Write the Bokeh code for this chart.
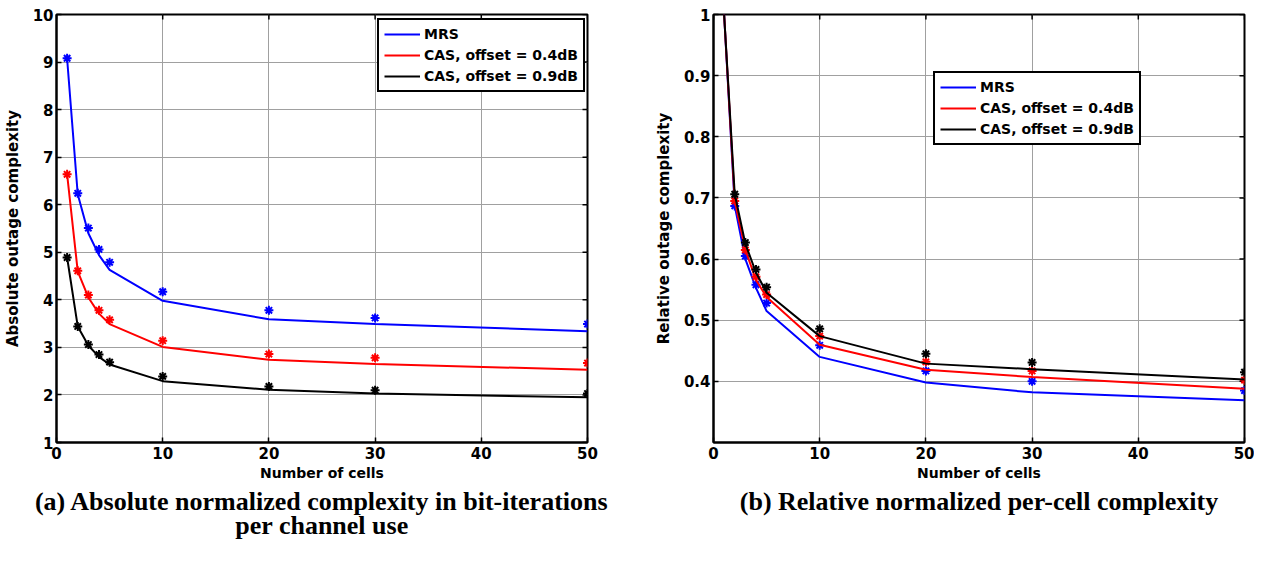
import math
from bokeh.plotting import figure
from bokeh.models import Range1d, FixedTicker, Legend, LegendItem, Title
from bokeh.layouts import row
from bokeh.embed import file_html
from bokeh.resources import INLINE

# ---------------- data ----------------
cells = [1, 2, 3, 4, 5, 10, 20, 30, 50]
series_names = ["MRS", "CAS, offset = 0.4dB", "CAS, offset = 0.9dB"]

# (a) absolute outage complexity
abs_mrs_line = [9.07, 6.22, 5.40, 4.94, 4.63, 3.98, 3.59, 3.49, 3.34]
abs_mrs_sim = [9.08, 6.24, 5.51, 5.06, 4.79, 4.17, 3.78, 3.62, 3.49]
abs_cas04_line = [6.64, 4.60, 4.05, 3.71, 3.49, 3.01, 2.74, 2.65, 2.53]
abs_cas04_sim = [6.64, 4.61, 4.10, 3.78, 3.58, 3.14, 2.86, 2.78, 2.67]
abs_cas09_line = [4.89, 3.44, 3.04, 2.80, 2.64, 2.29, 2.11, 2.03, 1.95]
abs_cas09_sim = [4.89, 3.44, 3.06, 2.85, 2.69, 2.39, 2.18, 2.10, 2.03]

# (b) relative outage complexity
rel_cells_sim = [2, 3, 4, 5, 10, 20, 30, 50]
rel_mrs_line = [1.0, 0.687, 0.600, 0.553, 0.515, 0.440, 0.398, 0.382, 0.369]
rel_mrs_sim = [0.687, 0.605, 0.558, 0.528, 0.459, 0.417, 0.400, 0.385]
rel_cas04_line = [1.0, 0.695, 0.615, 0.566, 0.538, 0.460, 0.419, 0.407, 0.388]
rel_cas04_sim = [0.695, 0.615, 0.571, 0.542, 0.474, 0.432, 0.417, 0.402]
rel_cas09_line = [1.0, 0.706, 0.625, 0.578, 0.545, 0.474, 0.429, 0.420, 0.403]
rel_cas09_sim = [0.706, 0.627, 0.583, 0.554, 0.486, 0.445, 0.431, 0.415]

x_ticks = [0, 10, 20, 30, 40, 50]
abs_y_ticks = [1, 2, 3, 4, 5, 6, 7, 8, 9, 10]
rel_y_ticks = [0.4, 0.5, 0.6, 0.7, 0.8, 0.9, 1.0]

caption_a1 = "(a) Absolute normalized complexity in bit-iterations"
caption_a2 = "per channel use"
caption_b1 = "(b) Relative normalized per-cell complexity"

colors = ["#0000ff", "#ff0000", "#000000"]
SANS = "DejaVu Sans"
SERIF = "Liberation Serif"


def style_axis(ax):
    ax.axis_line_color = "black"
    ax.axis_line_width = 2
    ax.major_tick_in = 5
    ax.major_tick_out = 0
    ax.major_tick_line_width = 1.5
    ax.minor_tick_line_color = None
    ax.major_label_text_font = SANS
    ax.major_label_text_font_style = "bold"
    ax.major_label_text_color = "black"
    ax.major_label_text_font_size = "15px"
    ax.axis_label_text_font = SANS
    ax.axis_label_text_font_style = "bold"
    ax.axis_label_text_color = "black"


def panel(width, bl, br, yr, yticks, ylabel, captions, lines_x, lines, sims_x, sims,
          legend_loc, overrides):
    p = figure(width=width, height=555, x_range=Range1d(0, 50), y_range=Range1d(*yr),
               output_backend="svg", toolbar_location=None,
               min_border_left=bl, min_border_right=br, min_border_top=14,
               min_border_bottom=113)
    p.background_fill_color = "white"
    p.border_fill_color = "white"
    p.outline_line_color = "black"
    p.outline_line_width = 2

    p.xaxis.ticker = FixedTicker(ticks=x_ticks)
    p.yaxis.ticker = FixedTicker(ticks=yticks)
    p.yaxis.major_label_overrides = overrides
    for ax in p.xaxis + p.yaxis:
        style_axis(ax)
    p.xaxis.major_label_standoff = 4
    p.yaxis.major_label_standoff = 3
    p.xaxis.axis_label = "Number of cells"
    p.yaxis.axis_label = ylabel
    p.xaxis.axis_label_text_font_size = "14px"
    p.yaxis.axis_label_text_font_size = "15px"
    p.xaxis.axis_label_standoff = 3
    p.yaxis.axis_label_standoff = 8

    p.xgrid.ticker = FixedTicker(ticks=x_ticks)
    p.ygrid.ticker = FixedTicker(ticks=yticks)
    p.grid.grid_line_color = "#a0a0a0"
    p.grid.grid_line_width = 1

    # inner tick marks on the top and right edges (MATLAB box style)
    p.scatter(x_ticks, [yr[1]] * len(x_ticks), marker="dash", angle=math.pi / 2,
              size=10, line_color="black", line_width=1.5)
    p.scatter([50] * len(yticks), yticks, marker="dash", size=10,
              line_color="black", line_width=1.5)

    items = []
    for name, c, ly, sy in zip(series_names, colors, lines, sims):
        r = p.line(lines_x, ly, line_color=c, line_width=2)
        p.scatter(sims_x, sy, marker="asterisk", size=9, line_color=c, line_width=2)
        items.append(LegendItem(label=name, renderers=[r]))

    leg = Legend(items=items, location=legend_loc)
    leg.label_text_font = SANS
    leg.label_text_font_style = "bold"
    leg.label_text_font_size = "14px"
    leg.label_text_color = "black"
    leg.border_line_color = "black"
    leg.border_line_alpha = 1
    leg.border_line_width = 2
    leg.background_fill_color = "white"
    leg.background_fill_alpha = 1
    leg.glyph_width = 36
    leg.glyph_height = 18
    leg.label_height = 18
    leg.spacing = 3
    leg.padding = 5
    leg.margin = 0
    leg.label_standoff = 4
    p.add_layout(leg)

    for i, cap in enumerate(captions):
        t = Title(text=cap, align="center", text_font=SERIF,
                  text_font_size="26px", text_font_style="bold", text_color="black",
                  standoff=-15 if i else 2)
        p.add_layout(t, "below")
    return p


pa = panel(633, 52, 46, (1, 10), abs_y_ticks, "Absolute outage complexity",
           [caption_a1, caption_a2],
           cells, [abs_mrs_line, abs_cas04_line, abs_cas09_line],
           cells, [abs_mrs_sim, abs_cas04_sim, abs_cas09_sim],
           (321, 350), {})
pb = panel(621, 80, 10, (0.3, 1.0), rel_y_ticks, "Relative outage complexity",
           [caption_b1],
           cells, [rel_mrs_line, rel_cas04_line, rel_cas09_line],
           rel_cells_sim, [rel_mrs_sim, rel_cas04_sim, rel_cas09_sim],
           (220, 297), {1.0: "1", 1: "1"})

layout = row(pa, pb)
open("out.html", "w").write(file_html(layout, INLINE))
